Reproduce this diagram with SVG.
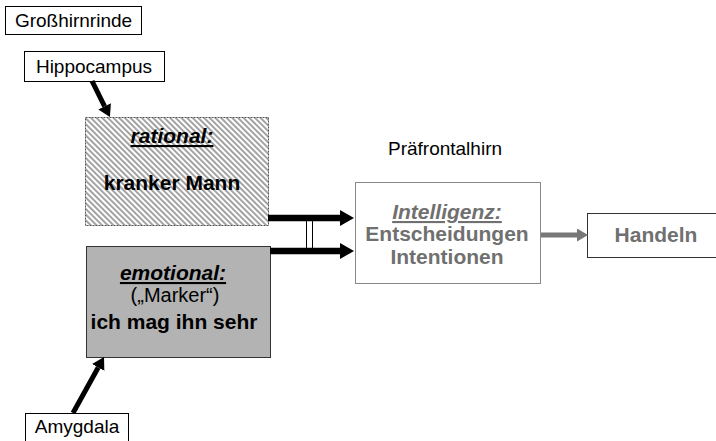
<svg xmlns="http://www.w3.org/2000/svg" width="716" height="441" viewBox="0 0 716 441">
<style>
text{font-family:"Liberation Sans",Arial,sans-serif;}
.lbl{font-size:19px;fill:#000;}
.b{font-weight:bold;font-size:21px;}
.bi{font-weight:bold;font-style:italic;font-size:21px;text-decoration:underline;}
.g{fill:#707070;}
.box{fill:#fff;stroke:#000;stroke-width:1;}
.blk{stroke:#000;fill:none;}
</style>
<defs>
<pattern id="hatch" width="4" height="4" patternUnits="userSpaceOnUse" patternTransform="rotate(-45)">
<rect width="4" height="4" fill="#fff"/>
<rect width="1.8" height="4" fill="#999"/>
</pattern>
<marker id="ab" viewBox="0 0 14 16" refX="0" refY="8" markerWidth="14" markerHeight="16" markerUnits="userSpaceOnUse" orient="auto">
<path d="M0,0 L14,8 L0,16 z" fill="#000"/>
</marker>
<marker id="as" viewBox="0 0 12 14" refX="0" refY="7" markerWidth="12" markerHeight="14" markerUnits="userSpaceOnUse" orient="auto">
<path d="M0,0 L12,7 L0,14 z" fill="#000"/>
</marker>
<marker id="ag" viewBox="0 0 11 13" refX="0" refY="6.5" markerWidth="11" markerHeight="13" markerUnits="userSpaceOnUse" orient="auto">
<path d="M0,0 L11,6.5 L0,13 z" fill="#777"/>
</marker>
</defs>
<g id="grosshirnrinde">
<rect class="box" x="5.5" y="6.5" width="136" height="28"/>
<text class="lbl" x="73.5" y="27" text-anchor="middle">Großhirnrinde</text>
</g>
<g id="hippocampus">
<rect class="box" x="24.5" y="51.5" width="140" height="30"/>
<text class="lbl" x="94" y="73" text-anchor="middle">Hippocampus</text>
</g>
<g id="rational">
<rect x="85.5" y="117.5" width="183" height="108" fill="url(#hatch)" stroke="#555" stroke-width="1" stroke-dasharray="2,1"/>
<text class="bi" x="172" y="143" text-anchor="middle">rational:</text>
<text class="b" x="172" y="190" text-anchor="middle">kranker Mann</text>
</g>
<g id="emotional">
<rect x="86.5" y="246.5" width="184" height="111" fill="#b3b3b3" stroke="#333" stroke-width="1"/>
<text class="bi" x="173" y="280" text-anchor="middle">emotional:</text>
<text class="lbl" x="175" y="302" text-anchor="middle" style="font-size:20px">(„Marker“)</text>
<text class="b" x="174" y="329" text-anchor="middle">ich mag ihn sehr</text>
</g>
<g id="praefrontalhirn">
<text class="lbl" x="445" y="155" text-anchor="middle">Präfrontalhirn</text>
</g>
<g id="intelligenz">
<rect x="355.5" y="182.5" width="185" height="101" fill="#fff" stroke="#888" stroke-width="1"/>
<text class="bi g" x="447" y="219" text-anchor="middle">Intelligenz:</text>
<text class="b g" x="447" y="241" text-anchor="middle">Entscheidungen</text>
<text class="b g" x="447" y="264" text-anchor="middle">Intentionen</text>
</g>
<g id="handeln">
<rect x="587.5" y="213.5" width="131" height="44" fill="#fff" stroke="#333" stroke-width="1"/>
<text class="b g" x="656" y="242" text-anchor="middle">Handeln</text>
</g>
<g id="amygdala">
<rect class="box" x="25.5" y="413.5" width="103" height="32"/>
<text class="lbl" x="77" y="433" text-anchor="middle">Amygdala</text>
</g>
<g id="connectors">
<line x1="92" y1="81" x2="104.6" y2="106.3" stroke="#000" stroke-width="5" marker-end="url(#as)"/>
<line x1="73" y1="413" x2="98.2" y2="367.5" stroke="#000" stroke-width="5" marker-end="url(#as)"/>
<line x1="268" y1="218" x2="340" y2="218" stroke="#000" stroke-width="6.5" marker-end="url(#ab)"/>
<line x1="270" y1="251" x2="340" y2="251" stroke="#000" stroke-width="6.5" marker-end="url(#ab)"/>
<line x1="306.5" y1="220" x2="306.5" y2="249" stroke="#000" stroke-width="1"/>
<line x1="312.5" y1="220" x2="312.5" y2="249" stroke="#000" stroke-width="1"/>
<line x1="541" y1="235" x2="577" y2="235" stroke="#777" stroke-width="5" marker-end="url(#ag)"/>
</g>
</svg>
